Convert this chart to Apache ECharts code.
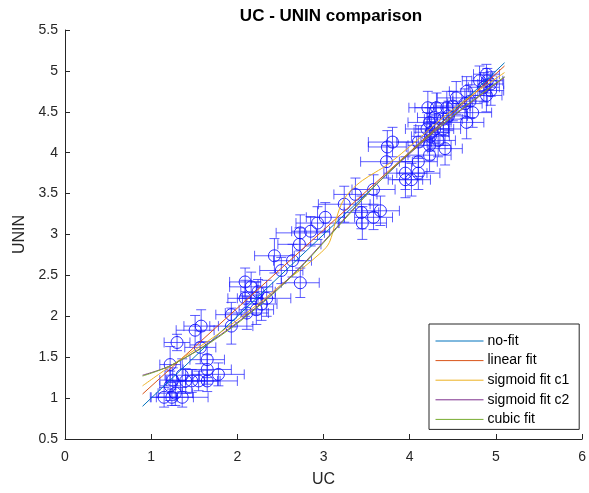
<!DOCTYPE html>
<html><head><meta charset="utf-8">
<script src="https://cdn.jsdelivr.net/npm/echarts@6/dist/echarts.min.js"></script>
<style>html,body{margin:0;padding:0;background:#fff}#c{width:589px;height:493px}</style>
</head><body><div id="c"></div>
<script>
// Measured points (UC, UNIN) with their error bar half-widths
const ucValues   = [1.15,1.24,1.36,1.28,1.22,1.25,1.40,1.47,1.55,1.65,1.36,1.78,1.65,1.22,1.65,1.57,1.30,1.51,1.58,1.93,1.93,2.11,2.22,2.09,2.22,2.34,2.28,2.16,2.24,2.09,2.73,2.51,2.64,2.43,2.72,2.73,2.85,2.93,3.02,3.24,3.37,3.58,3.45,3.44,3.58,3.66,3.73,3.74,3.80,3.95,3.95,4.02,4.10,4.10,4.23,4.10,4.23,4.33,4.24,4.41,4.20,4.29,4.39,4.23,4.39,4.29,4.21,4.31,4.43,4.50,4.66,4.73,4.64,4.54,4.66,4.89,4.94,4.94,4.81,4.90,4.89,4.86,4.70,4.25,4.45];
const uninValues = [1.01,1.01,1.01,1.06,1.15,1.22,1.21,1.21,1.21,1.21,1.28,1.29,1.35,1.41,1.47,1.62,1.68,1.83,1.88,1.88,2.02,2.04,2.08,2.22,2.22,2.22,2.15,2.36,2.30,2.42,2.41,2.56,2.68,2.74,2.88,3.02,3.04,3.14,3.21,3.37,3.49,3.55,3.14,3.27,3.21,3.29,3.89,4.07,4.13,3.75,3.67,3.67,3.75,3.89,3.97,4.13,4.09,4.15,4.20,4.05,4.29,4.29,4.29,4.37,4.41,4.43,4.55,4.55,4.55,4.57,4.37,4.49,4.60,4.67,4.75,4.70,4.76,4.84,4.88,4.88,4.96,4.80,4.63,4.25,4.45];
const ucErrors   = [0.15,0.25,0.30,0.20,0.12,0.15,0.22,0.30,0.25,0.35,0.20,0.30,0.28,0.12,0.20,0.18,0.15,0.22,0.20,0.25,0.18,0.25,0.20,0.20,0.22,0.28,0.18,0.25,0.20,0.18,0.22,0.25,0.22,0.23,0.25,0.28,0.22,0.25,0.22,0.30,0.25,0.25,0.28,0.20,0.22,0.22,0.30,0.22,0.28,0.25,0.20,0.22,0.25,0.22,0.25,0.25,0.25,0.20,0.22,0.20,0.25,0.22,0.20,0.25,0.22,0.20,0.22,0.25,0.22,0.20,0.20,0.22,0.20,0.22,0.20,0.18,0.15,0.15,0.20,0.18,0.15,0.18,0.20,0.20,0.22];
const uninErrors = [0.12,0.10,0.12,0.15,0.18,0.15,0.15,0.14,0.12,0.13,0.20,0.14,0.18,0.22,0.22,0.20,0.10,0.18,0.20,0.22,0.15,0.20,0.18,0.22,0.20,0.22,0.20,0.18,0.15,0.17,0.18,0.16,0.20,0.21,0.20,0.22,0.18,0.20,0.18,0.22,0.20,0.18,0.20,0.20,0.15,0.18,0.20,0.20,0.18,0.20,0.22,0.20,0.20,0.18,0.20,0.20,0.18,0.20,0.18,0.20,0.20,0.18,0.20,0.18,0.20,0.18,0.20,0.18,0.20,0.18,0.20,0.18,0.18,0.20,0.18,0.20,0.18,0.15,0.18,0.15,0.12,0.18,0.20,0.18,0.18];

// Fit curves
const noFitX = [0.9, 5.1];
const noFitY = [0.9, 5.1];
const linearX = [0.9, 5.1];
const linearY = [1.05, 5.06];
const sigC1X = [0.9,1.25,1.8,2.3,2.5,2.77,2.95,3.05,3.10,3.15,3.22,3.32,3.45,3.6,3.75,4.05,4.5,5.1];
const sigC1Y = [1.15,1.41,1.80,2.20,2.38,2.60,2.76,2.87,3.00,3.20,3.40,3.54,3.66,3.76,3.86,4.12,4.53,4.98];
const sigC2X = [0.9,1.25,1.8,2.3,2.7,3.0,3.3,3.62,4.0,4.5,5.1];
const sigC2Y = [1.28,1.41,1.77,2.18,2.57,2.91,3.26,3.62,3.99,4.44,4.92];
const cubicX = [0.9,1.25,1.8,2.3,2.7,3.0,3.3,3.62,4.0,4.5,5.1];
const cubicY = [1.27,1.41,1.76,2.17,2.56,2.90,3.25,3.62,4.00,4.45,4.93];

const xTicks = [0,1,2,3,4,5,6];
const yTicks = [0.5,1,1.5,2,2.5,3,3.5,4,4.5,5,5.5];
const legendNames = ['no-fit','linear fit','sigmoid fit c1','sigmoid fit c2','cubic fit'];

const zip = (a,b) => a.map((v,i)=>[v,b[i]]);
const pts = ucValues.map((v,i)=>[v, uninValues[i], ucErrors[i], uninErrors[i]]);

const FONT = 'Liberation Sans, Arial, Helvetica, sans-serif';
const AX = '#262626';

const chart = echarts.init(document.getElementById('c'), null, {renderer:'canvas'});

function lineSeries(name, x, y, color, smooth){
  return {
    name, type:'line', data: zip(x,y), symbol:'none', smooth: smooth ? 0.35 : false,
    lineStyle:{color, width:1}, itemStyle:{color}, z:5, animation:false, silent:true
  };
}

chart.setOption({
  animation:false,
  backgroundColor:'#fff',
  title:{
    text:'UC - UNIN comparison', left:326, top:3, textAlign:'center',
    textStyle:{fontFamily:FONT, fontSize:17, fontWeight:'bold', color:'#000'}
  },
  grid:{left:65, right:2, top:30, bottom:49, containLabel:false},
  xAxis:{
    type:'value', min:xTicks[0], max:xTicks[xTicks.length-1], interval:1,
    name:'UC', nameLocation:'middle', nameGap:33,
    nameTextStyle:{fontFamily:FONT, fontSize:16, color:AX},
    axisLine:{show:true, onZero:false, lineStyle:{color:AX, width:1}},
    axisTick:{show:true, inside:true, length:5, lineStyle:{color:AX}},
    axisLabel:{fontFamily:FONT, fontSize:14, color:AX, margin:11},
    splitLine:{show:false}
  },
  yAxis:{
    type:'value', min:yTicks[0], max:yTicks[yTicks.length-1], interval:0.5,
    name:'UNIN', nameLocation:'middle', nameGap:34, nameRotate:90,
    nameTextStyle:{fontFamily:FONT, fontSize:16, color:AX},
    axisLine:{show:true, onZero:false, lineStyle:{color:AX, width:1}},
    axisTick:{show:true, inside:true, length:5, lineStyle:{color:AX}},
    axisLabel:{fontFamily:FONT, fontSize:14, color:AX, margin:7},
    splitLine:{show:false}
  },
  legend:{
    orient:'vertical', left:429, top:324,
    data: legendNames,
    itemWidth:48, itemHeight:14, itemGap:5.6,
    padding:[10,10,3,6],
    itemStyle:{opacity:0},
    lineStyle:{width:1},
    borderColor:AX, borderWidth:1, backgroundColor:'#fff',
    textStyle:{fontFamily:FONT, fontSize:14, color:'#000', padding:[0,0,0,-1]},
    selectedMode:false
  },
  series:[
    {
      type:'custom', name:'data', data:pts, z:2, silent:true,
      encode:{x:0, y:1},
      renderItem:(params, api)=>{
        const x=api.value(0), y=api.value(1), ex=api.value(2), ey=api.value(3);
        const c=api.coord([x,y]);
        const l=api.coord([x-ex,y]), r=api.coord([x+ex,y]);
        const t=api.coord([x,y+ey]), b=api.coord([x,y-ey]);
        const cap=5;
        const bar={stroke:'rgba(30,30,255,0.72)', lineWidth:1, fill:null};
        return {type:'group', children:[
          {type:'line', shape:{x1:t[0],y1:t[1],x2:b[0],y2:b[1]}, style:bar},
          {type:'line', shape:{x1:t[0]-cap,y1:t[1],x2:t[0]+cap,y2:t[1]}, style:bar},
          {type:'line', shape:{x1:b[0]-cap,y1:b[1],x2:b[0]+cap,y2:b[1]}, style:bar},
          {type:'line', shape:{x1:l[0],y1:l[1],x2:r[0],y2:r[1]}, style:bar},
          {type:'line', shape:{x1:l[0],y1:l[1]-cap,x2:l[0],y2:l[1]+cap}, style:bar},
          {type:'line', shape:{x1:r[0],y1:r[1]-cap,x2:r[0],y2:r[1]+cap}, style:bar},
          {type:'circle', shape:{cx:c[0],cy:c[1],r:6}, style:{stroke:'rgba(10,10,255,0.85)', lineWidth:1, fill:null}}
        ]};
      }
    },
    lineSeries(legendNames[0], noFitX, noFitY, '#0072BD', false),
    lineSeries(legendNames[1], linearX, linearY, '#D95319', false),
    lineSeries(legendNames[2], sigC1X, sigC1Y, '#EDB120', true),
    lineSeries(legendNames[3], sigC2X, sigC2Y, '#7E2F8E', true),
    lineSeries(legendNames[4], cubicX, cubicY, '#77AC30', true)
  ]
});
</script>
</body></html>
